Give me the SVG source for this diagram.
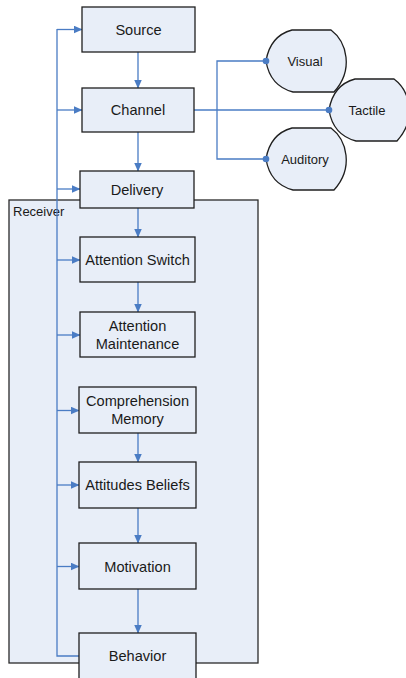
<svg xmlns="http://www.w3.org/2000/svg" width="406" height="678" viewBox="0 0 406 678">
<defs>
<style>
.box{fill:#E8EEF8;stroke:#1f1f1f;stroke-width:1.3}
.cont{fill:#E8EEF8;stroke:#2a2a2a;stroke-width:1.3}
.lbl{font-family:"Liberation Sans",Arial,sans-serif;font-size:14.6px;fill:#1a1a1a;text-anchor:middle}
.sm{font-family:"Liberation Sans",Arial,sans-serif;font-size:13px;fill:#1a1a1a;text-anchor:middle}
.con{fill:none;stroke:#4A7CC4;stroke-width:1.3}
.arr{marker-end:url(#ah)}
.dot{fill:#4A7CC4}
</style>
<marker id="ah" markerUnits="userSpaceOnUse" markerWidth="9" markerHeight="8" refX="8.5" refY="4" orient="auto">
<path d="M0,0 L9,4 L0,8 Z" fill="#4A7CC4"/>
</marker>
<path id="bulb" d="M292,30 L331,30 C347,42 354,70 334,92 L293,92 Q270,86 266,61 Q270,36 292,30 Z"/>
</defs>
<rect width="406" height="678" fill="#ffffff"/>

<g id="receiver">
<rect class="cont" x="9" y="200" width="249" height="463"/>
<text x="13" y="216" style="font-family:'Liberation Sans',Arial,sans-serif;font-size:13px;fill:#1a1a1a">Receiver</text>
</g>

<g id="connectors">
<path class="con" d="M79,656 H57 V29"/>
<path class="con arr" d="M57,29.5 H82"/>
<path class="con arr" d="M57,110 H82"/>
<path class="con arr" d="M57,189 H80"/>
<path class="con arr" d="M57,260 H80"/>
<path class="con arr" d="M57,335 H80"/>
<path class="con arr" d="M57,410.5 H79"/>
<path class="con arr" d="M57,485 H79"/>
<path class="con arr" d="M57,566.5 H79"/>
<path class="con arr" d="M138,52 V88"/>
<path class="con arr" d="M138,132 V171"/>
<path class="con arr" d="M138,208 V237"/>
<path class="con arr" d="M138,282 V312"/>
<path class="con arr" d="M138,433 V462"/>
<path class="con arr" d="M138,508 V543"/>
<path class="con arr" d="M138,589 V633"/>
<path class="con" d="M194,110 H329"/>
<path class="con" d="M266,61 H217 V159 H266"/>
</g>

<g id="source"><rect class="box" x="82" y="7" width="113" height="45"/><text class="lbl" x="138.5" y="34.5">Source</text></g>
<g id="channel"><rect class="box" x="82" y="88" width="112" height="44"/><text class="lbl" x="138" y="115">Channel</text></g>
<g id="delivery"><rect class="box" x="80" y="171" width="114" height="37"/><text class="lbl" x="137" y="194.5">Delivery</text></g>
<g id="attention-switch"><rect class="box" x="80" y="237" width="115" height="45"/><text class="lbl" x="137.5" y="265">Attention Switch</text></g>
<g id="attention-maintenance"><rect class="box" x="80" y="312" width="115" height="45"/><text class="lbl" x="137.5" y="331">Attention</text><text class="lbl" x="137.5" y="349">Maintenance</text></g>
<g id="comprehension-memory"><rect class="box" x="79" y="387" width="117" height="46"/><text class="lbl" x="137.5" y="406">Comprehension</text><text class="lbl" x="137.5" y="424">Memory</text></g>
<g id="attitudes-beliefs"><rect class="box" x="79" y="462" width="117" height="46"/><text class="lbl" x="137.5" y="490">Attitudes Beliefs</text></g>
<g id="motivation"><rect class="box" x="79" y="543" width="117" height="46"/><text class="lbl" x="137.5" y="571.5">Motivation</text></g>
<g id="behavior"><rect class="box" x="79" y="633" width="117" height="60"/><text class="lbl" x="137.5" y="661">Behavior</text></g>

<g id="visual"><use href="#bulb" class="box"/><text class="sm" x="305" y="65.5">Visual</text><circle class="dot" cx="266" cy="61" r="3.3"/></g>
<g id="auditory"><use href="#bulb" class="box" transform="translate(0,98)"/><text class="sm" x="305" y="163.5">Auditory</text><circle class="dot" cx="266" cy="159" r="3.3"/></g>
<g id="tactile"><use href="#bulb" class="box" transform="translate(63,49)"/><text class="sm" x="367" y="114.5">Tactile</text><circle class="dot" cx="329" cy="110" r="3.3"/></g>
</svg>
